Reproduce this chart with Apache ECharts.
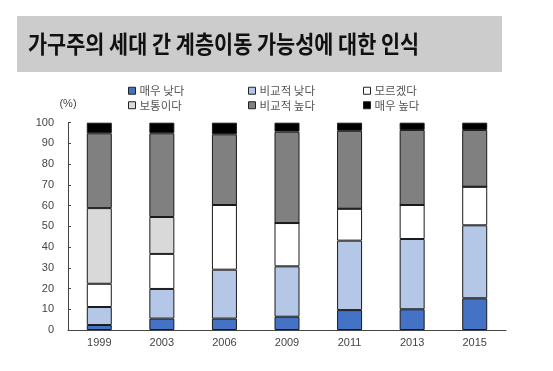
<!DOCTYPE html>
<html><head><meta charset="utf-8">
<script src="https://cdn.jsdelivr.net/npm/echarts@6/dist/echarts.min.js"></script>
<style>html,body{margin:0;padding:0;background:#fff}#c{width:553px;height:371px}</style>
</head><body><div id="c"></div>
<script>
var titleText = '가구주의 세대 간 계층이동 가능성에 대한 인식';
var years = ['1999','2003','2006','2009','2011','2013','2015'];
var seriesNames = ['매우 낮다','비교적 낮다','모르겠다','보통이다','비교적 높다','매우 높다'];
var veryLow   = [2.4, 5.5, 5.5, 6.4, 9.6, 10.0, 15.3];
var low       = [8.7, 14.3, 23.6, 24.3, 33.5, 33.9, 35.2];
var unknown   = [11.2, 16.9, 31.2, 20.9, 15.4, 16.4, 18.6];
var average   = [36.5, 17.8, 0, 0, 0, 0, 0];
var high      = [36.1, 40.4, 34.1, 44.1, 37.6, 36.2, 27.4];
var veryHigh  = [5.1, 5.1, 5.6, 4.3, 3.9, 3.5, 3.5];
var yTicks = [0,10,20,30,40,50,60,70,80,90,100];

var colors = ['#4472C4','#B4C7E7','#FFFFFF','#D9D9D9','#808080','#000000'];
var dataSets = [veryLow, low, unknown, average, high, veryHigh];

var chart = echarts.init(document.getElementById('c'), null, {renderer:'canvas'});
var series = dataSets.map(function(d, i){
  return {
    name: seriesNames[i], type:'bar', stack:'s', barWidth:25,
    data: d,
    itemStyle:{color:colors[i], borderColor:'#1a1a1a', borderWidth:1},
    emphasis:{disabled:true}
  };
});
function legendCol(names, left){
  return {
    orient:'vertical', left:left, top:80, itemGap:3,
    itemWidth:7, itemHeight:7, icon:'rect',
    itemStyle:{borderColor:'#222', borderWidth:1},
    textStyle:{fontFamily:'Noto Sans CJK KR', fontSize:11.5, color:'#555', lineHeight:11, padding:[0,0,0,-1]},
    data:names, selectedMode:false
  };
}
chart.setOption({
  animation:false,
  graphic:[
    {type:'rect', shape:{x:17,y:16,width:485,height:56}, style:{fill:'#CCCCCC'}},
    {type:'text', x:28, y:44, scaleX:0.865,
     style:{text:titleText, font:'bold 24px "Noto Sans CJK KR"', fill:'#111', verticalAlign:'middle'}},
    {type:'text', x:68, y:104, style:{text:'(%)', font:'11px "Liberation Sans"', fill:'#444', align:'center', verticalAlign:'middle'}}
  ],
  legend:[
    legendCol([seriesNames[0], seriesNames[3]], 123),
    legendCol([seriesNames[1], seriesNames[4]], 243),
    legendCol([seriesNames[2], seriesNames[5]], 358)
  ],
  grid:{left:68, right:47, top:122.7, bottom:41},
  xAxis:{
    type:'category', data:years,
    axisLine:{lineStyle:{color:'#444', width:1}},
    axisTick:{inside:true, length:3, lineStyle:{color:'#444'}},
    axisLabel:{color:'#444', fontFamily:'Liberation Sans', fontSize:11, margin:7}
  },
  yAxis:{
    type:'value', min:0, max:100, interval:10,
    axisLine:{show:true, lineStyle:{color:'#444', width:1}},
    axisTick:{show:true, inside:true, length:3, lineStyle:{color:'#444'}},
    splitLine:{show:false},
    axisLabel:{color:'#444', fontFamily:'Liberation Sans', fontSize:11, margin:14,
      formatter:function(v){ return yTicks.indexOf(v) >= 0 ? String(v) : ''; }}
  },
  series:series
});
</script></body></html>
